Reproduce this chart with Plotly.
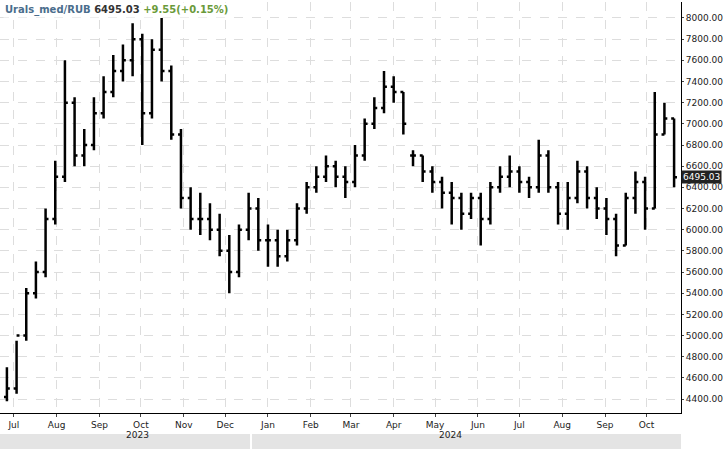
import pandas as pd
import plotly.graph_objects as go

dates = pd.date_range("2023-06-26", periods=70, freq="7D")

close = [4500, 5000, 5400, 5600, 6100, 6500, 7200, 6700, 6800, 7100,
         7300, 7500, 7600, 7800, 7100, 7700, 7500, 6900, 6300, 6100,
         6100, 6000, 5800, 5600, 6000, 6200, 5900, 5900, 5750, 5900,
         6200, 6400, 6500, 6600, 6500, 6450, 6700, 7000, 7150, 7350,
         7300, 7000, 6700, 6550, 6450, 6350, 6300, 6150, 6300, 6100,
         6400, 6500, 6550, 6450, 6400, 6700, 6400, 6150, 6300, 6550,
         6300, 6200, 6100, 5850, 6300, 6450, 6200, 6900, 7050, 6495]
opn = [4420, 4500, 5000, 5400, 5600, 6100, 6500, 7200, 6700, 6800,
       7100, 7300, 7500, 7600, 7800, 7100, 7700, 7500, 6900, 6300,
       6100, 6100, 6000, 5800, 5600, 6000, 6200, 5900, 5900, 5750,
       5900, 6200, 6400, 6500, 6600, 6500, 6450, 6700, 7000, 7150,
       7350, 7300, 6700, 6700, 6550, 6450, 6350, 6300, 6150, 6300,
       6100, 6400, 6500, 6550, 6450, 6400, 6700, 6400, 6150, 6300,
       6550, 6300, 6200, 6100, 5850, 6300, 6450, 6200, 6900, 7050]
high = [4700, 4950, 5450, 5700, 6200, 6650, 7600, 7250, 6950, 7250,
        7450, 7650, 7750, 7950, 7850, 7800, 8000, 7550, 6950, 6400,
        6350, 6250, 6150, 5950, 6050, 6350, 6300, 6050, 6000, 6000,
        6250, 6450, 6600, 6700, 6650, 6600, 6800, 7050, 7250, 7500,
        7450, 7300, 6750, 6700, 6600, 6500, 6450, 6350, 6350, 6350,
        6450, 6600, 6700, 6600, 6500, 6850, 6750, 6450, 6450, 6650,
        6600, 6400, 6300, 6150, 6350, 6550, 6500, 7300, 7200, 7050]
low = [4380, 4450, 4950, 5350, 5550, 6050, 6450, 6600, 6600, 6750,
       7050, 7250, 7400, 7450, 6800, 7050, 7400, 6850, 6200, 6000,
       5950, 5900, 5750, 5400, 5550, 5900, 5800, 5650, 5650, 5700,
       5850, 6150, 6350, 6450, 6400, 6300, 6400, 6650, 6950, 7100,
       7200, 6900, 6600, 6450, 6350, 6200, 6050, 6000, 6100, 5850,
       6050, 6350, 6400, 6350, 6300, 6350, 6350, 6050, 6000, 6250,
       6200, 6100, 5950, 5750, 5850, 6150, 6000, 6200, 6900, 6400]

y_ticks = list(range(4400, 8001, 200))
y_labels = [f"{v:.2f}" for v in y_ticks]

last_price = 6495.03

fig = go.Figure()
fig.add_trace(go.Ohlc(
    x=dates, open=opn, high=high, low=low, close=close,
    increasing_line_color="black", decreasing_line_color="black",
    line_width=2.5, tickwidth=0.3, showlegend=False
))

fig.update_layout(
    width=725, height=449,
    margin=dict(l=0, r=44, t=2, b=36),
    paper_bgcolor="white", plot_bgcolor="white",
    font=dict(family="DejaVu Sans", size=9, color="#222"),
    xaxis=dict(
        range=["2023-06-21", "2024-10-26"], rangeslider_visible=False,
        dtick="M1", tickformat="%b", ticks="outside", ticklen=3,
        tickfont=dict(size=9), ticklabelstandoff=0,
        showgrid=True, gridcolor="#dddddd", griddash="dash",
        showline=True, linecolor="black"
    ),
    yaxis=dict(
        side="right", range=[4268, 8151], tickmode="array",
        tickvals=y_ticks, ticktext=y_labels,
        ticks="outside", ticklen=2,
        tickfont=dict(size=9),
        ticklabelstandoff=0, automargin=False,
        showgrid=True, gridcolor="#dddddd",
        griddash="dash", showline=True, linecolor="black"
    ),
    shapes=[
        dict(type="rect", xref="paper", yref="paper", x0=0, x1=250 / 681,
             y0=-36 / 411, y1=-21 / 411, fillcolor="#e4e4e4", line_width=0),
        dict(type="rect", xref="paper", yref="paper", x0=252 / 681, x1=1,
             y0=-36 / 411, y1=-21 / 411, fillcolor="#e4e4e4", line_width=0),
    ],
    annotations=[
        dict(xref="paper", yref="paper", x=124 / 681, y=-28.5 / 411,
             text="2023", showarrow=False, font=dict(size=9)),
        dict(xref="paper", yref="paper", x=464 / 681, y=-28.5 / 411,
             text="2024", showarrow=False, font=dict(size=9)),
        dict(xref="paper", yref="paper", x=0.005, y=1.0, xanchor="left",
             yanchor="top", showarrow=False, bgcolor="white",
             text="<b><span style='color:#4a6d8c'>Urals_med/RUB</span> "
                  "<span style='color:#333'>6495.03</span> "
                  "<span style='color:#6a9a3a'>+9.55(+0.15%)</span></b>",
             font=dict(size=10)),
        dict(xref="paper", yref="y", x=1.0, y=last_price, xanchor="left",
             text=f"{last_price:.2f}", showarrow=False, bgcolor="#222",
             font=dict(color="white", size=9), borderpad=1),
    ],
)

fig.write_html("out.html", config={"displayModeBar": False})

# drop the browser's default page margin so the chart sits at 0,0
with open("out.html", encoding="utf-8") as f:
    page = f.read()
page = page.replace("<body>", "<body style=\"margin:0\">", 1)
with open("out.html", "w", encoding="utf-8") as f:
    f.write(page)
